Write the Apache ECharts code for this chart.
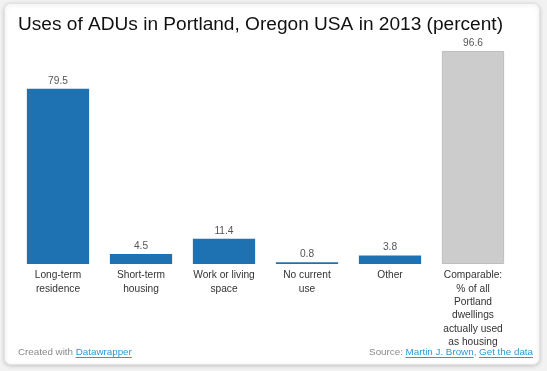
<!DOCTYPE html>
<html><head><meta charset="utf-8">
<script src="https://cdn.jsdelivr.net/npm/echarts@6/dist/echarts.min.js"></script>
<style>html,body{margin:0;padding:0;background:#f2f2f2;}#c{width:547px;height:371px;}</style>
</head><body><div id="c"></div>
<script>
const categories = ["Long-term\nresidence","Short-term\nhousing","Work or living\nspace","No current\nuse","Other","Comparable:\n% of all\nPortland\ndwellings\nactually used\nas housing"];
const values = [79.5, 4.5, 11.4, 0.8, 3.8, 96.6];
const highlight = [false,false,false,false,false,true];
const title = "Uses of ADUs in Portland, Oregon USA in 2013 (percent)";

const FONT = '"Liberation Sans", Arial, sans-serif';
const FS = 9.8;
const chart = echarts.init(document.getElementById('c'));
const ctx = document.createElement('canvas').getContext('2d');
function tw(s){ ctx.font = FS + 'px ' + FONT; return ctx.measureText(s).width; }

const fy = 352;
const leftA = 18, leftB = leftA + tw('Created with ');
const rightEnd = 533;
const wGet = tw('Get the data'), wComma = tw(', '), wMartin = tw('Martin J. Brown'), wSrc = tw('Source: ');
const xGet = rightEnd - wGet, xMartin = xGet - wComma - wMartin, xSrc = xMartin - wSrc;
const footStyle = {fontSize:FS, fontFamily:FONT, textVerticalAlign:'middle'};
function txt(x, s, color){ return {type:'text', x:x, y:fy, silent:true, style:Object.assign({text:s, fill:color}, footStyle)}; }
function uline(x, w){ return {type:'line', silent:true, shape:{x1:x, y1:fy+5.5, x2:x+w, y2:fy+5.5}, style:{stroke:'#2a9ad6', lineWidth:1}}; }

chart.setOption({
  backgroundColor: 'transparent',
  animation: false,
  graphic: [
    {type:'rect', z:-10, shape:{x:4.5, y:3.5, width:535, height:361, r:6}, style:{fill:'#fff', stroke:'#e2e2e2', lineWidth:1, shadowBlur:4, shadowColor:'rgba(0,0,0,0.18)', shadowOffsetY:1}},
    {type:'text', x:18, y:25, silent:true, style:{text:title, fill:'#111', fontSize:19.1, fontFamily:FONT, textVerticalAlign:'middle'}},
    txt(leftA, 'Created with ', '#8a8a8a'),
    txt(leftB, 'Datawrapper', '#2a9ad6'), uline(leftB, tw('Datawrapper')),
    txt(xSrc, 'Source: ', '#8a8a8a'),
    txt(xMartin, 'Martin J. Brown', '#2a9ad6'), uline(xMartin, wMartin),
    txt(xMartin + wMartin, ', ', '#8a8a8a'),
    txt(xGet, 'Get the data', '#2a9ad6'), uline(xGet, wGet)
  ],
  grid: {left:16.5, right:32.5, top:43.5, bottom:107, containLabel:false},
  xAxis: {
    type:'category', data:categories,
    axisLine:{show:false}, axisTick:{show:false},
    axisLabel:{interval:0, margin:5, color:'#333', fontSize:10.2, fontFamily:FONT, lineHeight:13.3, align:'center', verticalAlign:'top'}
  },
  yAxis: {type:'value', min:0, max:100, show:false, splitLine:{show:false}},
  series: [{
    type:'bar', barWidth:'75%',
    data: values.map((v,i)=>({value:v, itemStyle: highlight[i] ? {color:'#cccccc', borderColor:'#bdbdbd', borderWidth:1} : {color:'#1f72b2'}})),
    label:{show:true, position:'top', distance:3, color:'#555', fontSize:10.2, fontFamily:FONT, formatter:p=>p.value.toFixed(1)}
  }]
});
</script></body></html>
